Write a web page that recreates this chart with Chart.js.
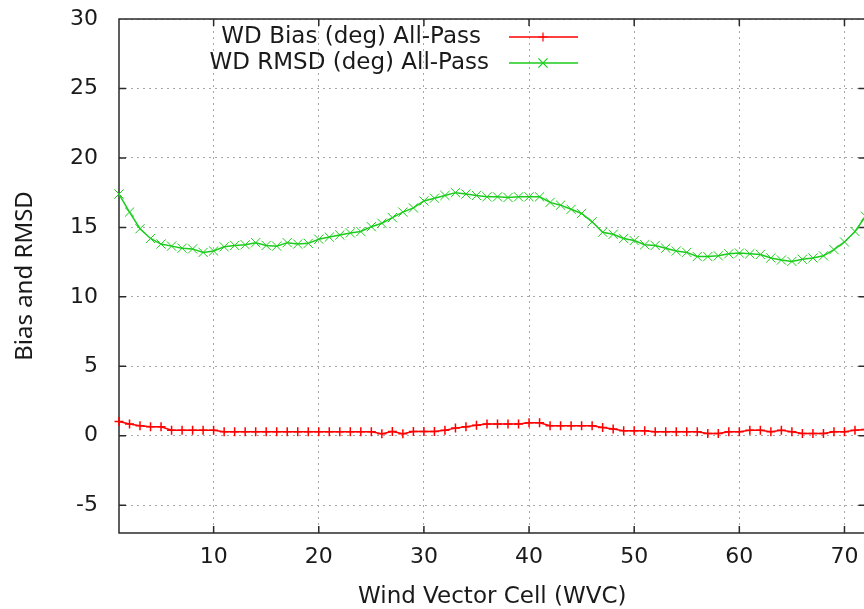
<!doctype html>
<html lang="en">
<head>
	<meta charset="UTF-8">
	<title>WD Bias and RMSD</title>
	<script src="https://cdn.jsdelivr.net/npm/chart.js@4.4.0/dist/chart.umd.min.js"></script>
	<style>
		html, body { margin: 0; padding: 0; background: #fff; overflow: hidden; }
	</style>
</head>
<body>
	<canvas id="chart" width="873" height="609"></canvas>
	<script>
		// wind vector cell index
		const cells = [
			1, 2, 3, 4, 5, 6, 7, 8, 9, 10, 11, 12, 13, 14, 15, 16, 17, 18,
			19, 20, 21, 22, 23, 24, 25, 26, 27, 28, 29, 30, 31, 32, 33, 34, 35, 36,
			37, 38, 39, 40, 41, 42, 43, 44, 45, 46, 47, 48, 49, 50, 51, 52, 53, 54,
			55, 56, 57, 58, 59, 60, 61, 62, 63, 64, 65, 66, 67, 68, 69, 70, 71, 72
		];
		const biasValues = [
			1.03, 0.84, 0.72, 0.65, 0.65, 0.40, 0.40, 0.40, 0.40, 0.40, 0.29, 0.29, 0.29, 0.29, 0.29, 0.29, 0.29, 0.29,
			0.29, 0.29, 0.29, 0.29, 0.29, 0.29, 0.29, 0.15, 0.30, 0.15, 0.30, 0.30, 0.30, 0.40, 0.55, 0.65, 0.75, 0.84,
			0.84, 0.84, 0.84, 0.94, 0.94, 0.72, 0.72, 0.72, 0.72, 0.72, 0.60, 0.48, 0.36, 0.36, 0.36, 0.29, 0.29, 0.29,
			0.29, 0.29, 0.17, 0.17, 0.29, 0.29, 0.40, 0.40, 0.29, 0.40, 0.29, 0.17, 0.17, 0.17, 0.29, 0.29, 0.40, 0.45
		];
		const rmsdValues = [
			17.4, 16.1, 14.9, 14.2, 13.8, 13.65, 13.5, 13.45, 13.2, 13.3, 13.6, 13.7, 13.75, 13.9, 13.7, 13.65, 13.9, 13.8,
			13.85, 14.15, 14.3, 14.45, 14.6, 14.7, 15.05, 15.3, 15.7, 16.1, 16.4, 16.9, 17.1, 17.3, 17.5, 17.4, 17.3, 17.2,
			17.2, 17.15, 17.2, 17.2, 17.2, 16.8, 16.6, 16.3, 16.0, 15.4, 14.65, 14.5, 14.2, 14.05, 13.75, 13.7, 13.5, 13.3,
			13.2, 12.9, 12.9, 12.95, 13.1, 13.15, 13.1, 13.05, 12.8, 12.65, 12.55, 12.7, 12.8, 12.95, 13.4, 13.95, 14.7, 15.8
		];
		const xTicks = [10, 20, 30, 40, 50, 60, 70];
		const yTicks = [-5, 0, 5, 10, 15, 20, 25, 30];
		const seriesLabels = ['WD Bias (deg) All-Pass', 'WD RMSD (deg) All-Pass'];

		const RED = '#ff0000';
		const GREEN = '#1ccc1c';

		Chart.defaults.font.family = "'DejaVu Sans', sans-serif";
		Chart.defaults.color = '#1a1a1a';

		function toPoints(values) {
			return cells.map((c, i) => ({ x: c, y: values[i] }));
		}

		// gnuplot style frame with inward ticks
		const framePlugin = {
			id: 'frame',
			beforeDatasetsDraw(chart) {
				const { ctx, chartArea: a, scales } = chart;
				const tl = 7;
				ctx.save();
				ctx.strokeStyle = '#2a2a2a';
				ctx.lineWidth = 1.5;
				ctx.beginPath();
				ctx.moveTo(a.right, a.top);
				ctx.lineTo(a.left, a.top);
				ctx.lineTo(a.left, a.bottom);
				ctx.lineTo(a.right, a.bottom);
				ctx.lineTo(a.right, a.top);
				xTicks.forEach(v => {
					const px = scales.x.getPixelForValue(v);
					ctx.moveTo(px, a.bottom); ctx.lineTo(px, a.bottom - tl);
					ctx.moveTo(px, a.top); ctx.lineTo(px, a.top + tl);
				});
				yTicks.forEach(v => {
					const py = scales.y.getPixelForValue(v);
					ctx.moveTo(a.left, py); ctx.lineTo(a.left + tl, py);
					ctx.moveTo(a.right, py); ctx.lineTo(a.right - tl, py);
				});
				ctx.stroke();
				ctx.restore();
			}
		};

		// key drawn like gnuplot: text right-justified, sample line after it
		const keyPlugin = {
			id: 'key',
			afterDraw(chart) {
				const { ctx } = chart;
				const rows = [
					{ text: seriesLabels[0], right: 481, y: 37, ds: chart.data.datasets[0] },
					{ text: seriesLabels[1], right: 489, y: 63, ds: chart.data.datasets[1] }
				];
				ctx.save();
				ctx.font = "23px 'DejaVu Sans'";
				ctx.textAlign = 'right';
				ctx.textBaseline = 'middle';
				rows.forEach(r => {
					ctx.fillStyle = '#1a1a1a';
					ctx.fillText(r.text, r.right, r.y);
					ctx.strokeStyle = r.ds.borderColor;
					ctx.lineWidth = 1.5;
					ctx.beginPath();
					ctx.moveTo(509, r.y);
					ctx.lineTo(578, r.y);
					ctx.stroke();
					ctx.lineWidth = 1.2;
					Chart.helpers.drawPoint(ctx, {
						pointStyle: r.ds.pointStyle,
						radius: r.ds.pointRadius,
						rotation: 0,
						borderWidth: 1.2
					}, 543, r.y);
				});
				ctx.restore();
			}
		};

		const ctx = document.getElementById('chart').getContext('2d');

		const chart = new Chart(ctx, {
			type: 'line',
			data: {
				datasets: [
					{
						label: seriesLabels[0],
						data: toPoints(biasValues),
						borderColor: RED,
						backgroundColor: RED,
						borderWidth: 1.5,
						pointStyle: 'cross',
						pointRadius: 4.5,
						pointBorderWidth: 1.5,
						tension: 0,
						clip: false,
					},
					{
						label: seriesLabels[1],
						data: toPoints(rmsdValues),
						borderColor: GREEN,
						backgroundColor: GREEN,
						borderWidth: 1.5,
						pointStyle: 'crossRot',
						pointRadius: 6.5,
						pointBorderWidth: 1,
						tension: 0,
						clip: false,
					},
				],
			},
			options: {
				responsive: false,
				animation: false,
				events: [],
				layout: { padding: { top: 19, left: 0, right: 0, bottom: 0 } },
				plugins: {
					legend: { display: false },
					tooltip: { enabled: false },
				},
				scales: {
					x: {
						type: 'linear',
						min: 1,
						max: 72,
						afterBuildTicks: (scale) => { scale.ticks = xTicks.map(v => ({ value: v })); },
						afterFit: (scale) => {
							scale.height = 76;
							scale.paddingLeft = 0;
							scale.paddingRight = 0;
						},
						grid: {
							color: '#a8a8a8',
							lineWidth: 1,
							drawTicks: false,
						},
						border: { display: false, dash: [2, 4] },
						ticks: {
							padding: 11,
							font: { size: 22 },
							maxRotation: 0,
							autoSkip: false,
						},
						title: {
							display: true,
							text: 'Wind Vector Cell (WVC)',
							font: { size: 23, lineHeight: 1.0 },
							padding: { top: 0, bottom: 0 },
						},
					},
					y: {
						min: -7,
						max: 30,
						afterBuildTicks: (scale) => { scale.ticks = yTicks.map(v => ({ value: v })); },
						afterFit: (scale) => {
							scale.width = 119;
							scale.paddingTop = 0;
							scale.paddingBottom = 0;
						},
						grid: {
							color: '#a8a8a8',
							lineWidth: 1,
							drawTicks: false,
						},
						border: { display: false, dash: [2, 4] },
						ticks: {
							padding: 21,
							font: { size: 22 },
						},
						title: {
							display: true,
							text: 'Bias and RMSD',
							font: { family: "'Noto Sans', sans-serif", size: 24, lineHeight: 1.0 },
							padding: { top: 13, bottom: 0 },
						},
					},
				},
			},
			plugins: [framePlugin, keyPlugin],
		});
	</script>
</body>
</html>
